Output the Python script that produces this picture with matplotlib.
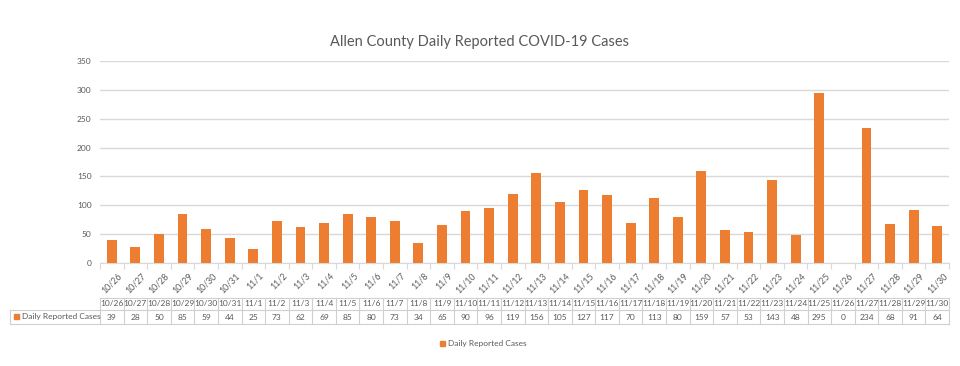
import matplotlib
matplotlib.use("Agg")
import matplotlib.pyplot as plt
from matplotlib.patches import Rectangle
import numpy as np

dates = ["10/26","10/27","10/28","10/29","10/30","10/31","11/1","11/2","11/3","11/4",
         "11/5","11/6","11/7","11/8","11/9","11/10","11/11","11/12","11/13","11/14",
         "11/15","11/16","11/17","11/18","11/19","11/20","11/21","11/22","11/23","11/24",
         "11/25","11/26","11/27","11/28","11/29","11/30"]
cases = [39,28,50,85,59,44,25,73,62,69,85,80,73,34,65,90,96,119,156,105,
         127,117,70,113,80,159,57,53,143,48,295,0,234,68,91,64]
series_name = "Daily Reported Cases"
title = "Allen County Daily Reported COVID-19 Cases"
yticks = [0,50,100,150,200,250,300,350]

plt.rcParams['font.family'] = ['Lato', 'DejaVu Sans']
W, H = 960, 366
fig = plt.figure(figsize=(W/100, H/100), dpi=100)
orange = "#ED7D31"
txt = "#595959"
grid = "#D9D9D9"

L, R, T, B = 100, 949, 61, 263
ax = fig.add_axes([L/W, 1-B/H, (R-L)/W, (B-T)/H])
n = len(dates)
x = np.arange(n)
ax.bar(x, cases, width=0.42, color=orange, zorder=3)
ax.set_xlim(-0.5, n-0.5)
ax.set_ylim(0, 350)
ax.set_yticks(yticks)
ax.set_yticklabels([str(v) for v in yticks], fontsize=6, color=txt)
ax.tick_params(axis='y', length=0, pad=6)
ax.yaxis.grid(True, color=grid, linewidth=1, zorder=0)
for s in ['top', 'right', 'left']:
    ax.spines[s].set_visible(False)
ax.spines['bottom'].set_color(grid)
ax.set_xticks(np.arange(-0.5, n, 1.0))
ax.set_xticklabels([])
ax.tick_params(axis='x', length=4, color=grid)
for i, d in enumerate(dates):
    ax.annotate(d, xy=(i, 0), xycoords=('data', 'axes fraction'),
                xytext=(4, -6), textcoords='offset points',
                rotation=45, ha='right', va='top', fontsize=6.3, color=txt,
                rotation_mode='anchor')

fig.text(0.5, 1-42/H, title, ha='center', va='center', fontsize=10.5, color=txt)

# table overlay
tax = fig.add_axes([0, 0, 1, 1])
tax.set_xlim(0, W)
tax.set_ylim(H, 0)
tax.axis('off')
cw = (R-L)/n
y0, y1, y2 = 298, 310, 324
tab_col = "#D0D0D0"
for i in range(n+1):
    xx = L + i*cw
    tax.plot([xx, xx], [y0, y2], color=tab_col, lw=0.8)
tax.plot([L, R], [y0, y0], color=tab_col, lw=0.8)
tax.plot([10, R], [y1, y1], color=tab_col, lw=0.8)
tax.plot([10, R], [y2, y2], color=tab_col, lw=0.8)
tax.plot([10, 10], [y1, y2], color=tab_col, lw=0.8)
for i, (d, c) in enumerate(zip(dates, cases)):
    cx = L + (i+0.5)*cw
    tax.text(cx, (y0+y1)/2, d, ha='center', va='center', fontsize=6, color=txt)
    tax.text(cx, (y1+y2)/2, str(c), ha='center', va='center', fontsize=6, color=txt)
tax.add_patch(Rectangle((14, 314), 5, 5, color=orange))
tax.text(22, (y1+y2)/2, series_name, ha='left', va='center', fontsize=6, color=txt)

# legend
tax.add_patch(Rectangle((440, 341), 5, 5, color=orange))
tax.text(448, 343.5, series_name, ha='left', va='center', fontsize=6, color=txt)

fig.savefig("out.png", dpi=100, facecolor='white')
